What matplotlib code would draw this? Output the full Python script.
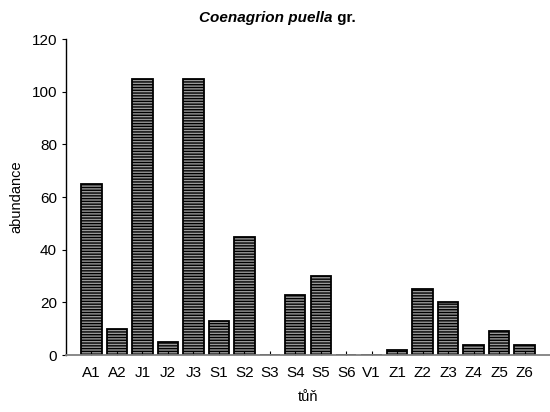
import matplotlib
matplotlib.use("Agg")
import matplotlib.pyplot as plt

plt.rcParams['font.family'] = ['Liberation Sans', 'DejaVu Sans']
plt.rcParams['hatch.color'] = '#333333'
plt.rcParams['hatch.linewidth'] = 1.0

# sites and abundances
sites = ["A1", "A2", "J1", "J2", "J3", "S1", "S2", "S3", "S4", "S5", "S6",
         "V1", "Z1", "Z2", "Z3", "Z4", "Z5", "Z6"]
abundance = [65, 10, 105, 5, 105, 13, 45, 0, 23, 30, 0, 0, 2, 25, 20, 4, 9, 4]

fig = plt.figure(figsize=(5.5, 4.12), dpi=100)
ax = fig.add_axes([0.12, 0.138, 0.88, 0.767])

x = list(range(len(sites)))
ax.bar(x, abundance, width=0.8, color='#999999', edgecolor='black',
       linewidth=1.3, hatch='------')

ax.set_xlim(-1, len(sites))
ax.set_ylim(0, 120)
ax.set_xticks(x)
ax.set_xticklabels(sites)
ax.set_yticks([0, 20, 40, 60, 80, 100, 120])

ax.spines['top'].set_visible(False)
ax.spines['right'].set_visible(False)
ax.spines['bottom'].set_color('#808080')
ax.spines['bottom'].set_linewidth(1.3)
ax.spines['left'].set_linewidth(1.0)
ax.tick_params(axis='x', direction='in', length=3, labelsize=11, pad=8)
ax.tick_params(axis='y', direction='out', length=3, labelsize=11)

ax.set_xlabel('tůň', fontsize=10.5, labelpad=7)
ax.set_ylabel('abundance', fontsize=10.5, labelpad=6)

# title: italic species name + plain "gr."
t = fig.text(0.362, 0.957, 'Coenagrion puella', fontsize=11, fontweight='bold',
             fontstyle='italic', ha='left', va='center')
ax.annotate(' gr.', xy=(1, 0), xycoords=t, va='bottom', ha='left',
            fontsize=11, fontweight='bold')

fig.savefig('out.png', dpi=100)
